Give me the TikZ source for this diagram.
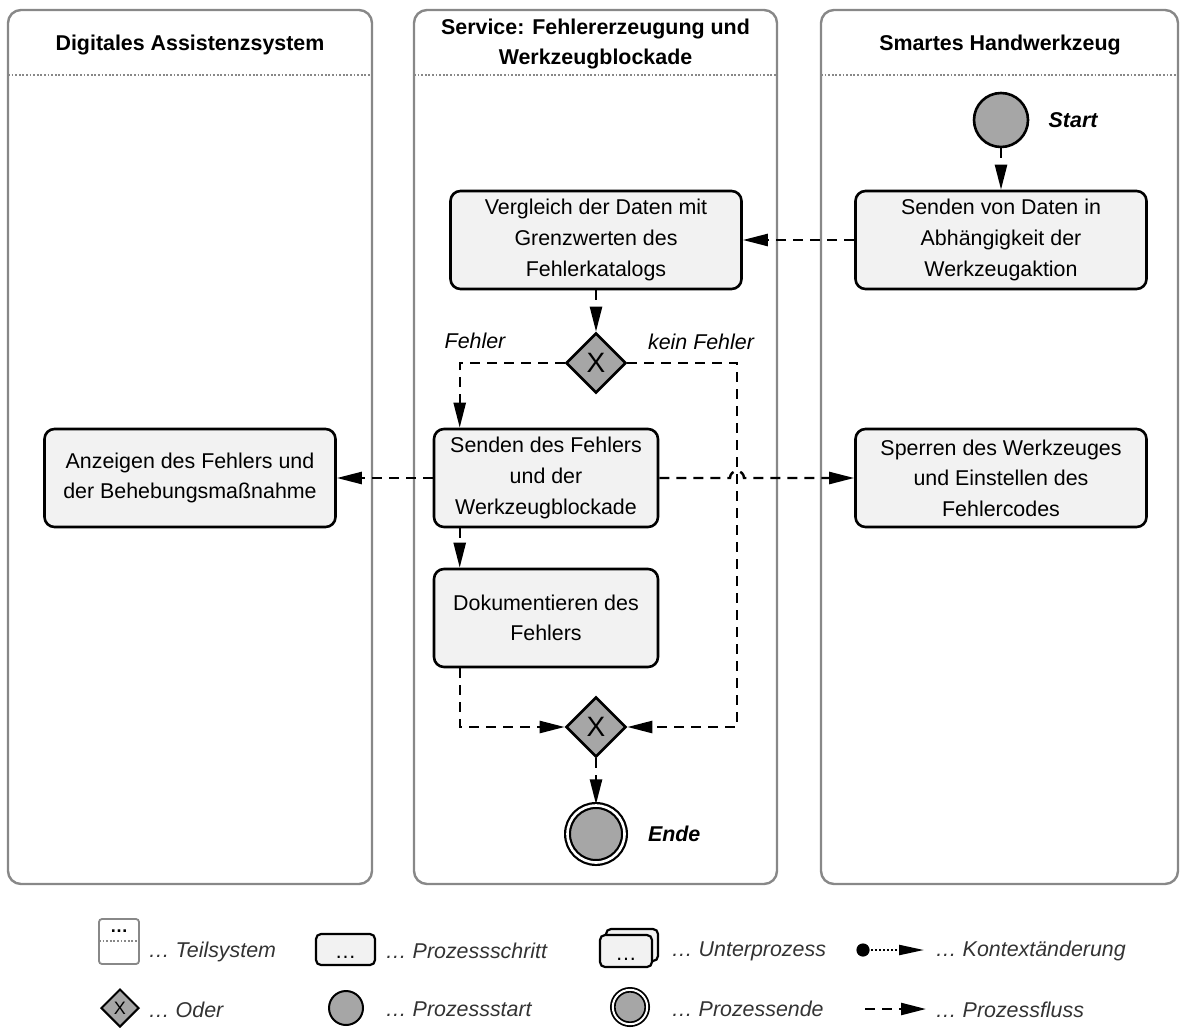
\documentclass[tikz,border=0pt]{standalone}
\usepackage{fontspec}
\setmainfont{Liberation Sans}
\usepackage{tikz}
\usetikzlibrary{arrows.meta}
\usetikzlibrary{shapes.geometric}
\usetikzlibrary{positioning}
\usetikzlibrary{calc}
\definecolor{lanegray}{HTML}{888888}
\definecolor{stepfill}{HTML}{F2F2F2}
\definecolor{eventfill}{HTML}{A6A6A6}
\definecolor{legendtext}{HTML}{333333}
\newcommand{\flowfont}{\fontsize{10.7}{15.3}\selectfont}

\tikzset{
	lane/.style={draw=lanegray, line width=1.2pt, rounded corners=6.5pt},
	laneline/.style={draw=lanegray, line width=0.9pt, dash pattern=on 0.9pt off 0.9pt},
	lanetitle/.style={font=\fontsize{10.7}{15}\selectfont\bfseries, align=center, inner sep=0pt},
	process/.style={draw, line width=1.3pt, fill=stepfill, rounded corners=5pt, align=center,
		minimum width=145.5pt, minimum height=49pt, inner sep=0pt},
	gateway/.style={diamond, draw, line width=1.3pt, fill=eventfill, minimum size=30pt, inner sep=0pt,
		font=\fontsize{14}{14}\selectfont},
	startevent/.style={circle, draw, line width=1.3pt, fill=eventfill, minimum size=27pt, inner sep=0pt},
	endevent/.style={circle, draw, line width=1.1pt, double, double distance=1.3pt, fill=eventfill,
		minimum size=28.5pt, inner sep=0pt},
	flow/.style={line width=1.2pt, dash pattern=on 5pt off 3.5pt, -{Triangle[length=12.5pt,width=6pt]}},
	branch/.style={font=\flowfont\itshape, inner sep=0pt},
	eventlabel/.style={font=\flowfont\bfseries\itshape, inner sep=0pt},
	legend/.style={font=\flowfont\itshape, text=legendtext, anchor=west, inner sep=0pt},
}

\begin{document}
\begin{tikzpicture}[x=0.5pt, y=-0.5pt, font=\flowfont]
		\useasboundingbox (0,0) rectangle (1181,1027);

		%draw lanes with header line
		\foreach \l/\r in {8/372, 414/777, 821/1178}
		{
			\draw[lane] (\l,10) rectangle (\r,884);
			\draw[laneline] (\l,75) -- (\r,75);
		}
		\node[lanetitle] (titleAssist) at (190,45) {Digitales Assistenzsystem};
		\node[lanetitle] (titleService) at (595.5,44) {Service: Fehlererzeugung und\\Werkzeugblockade};
		\node[lanetitle] (titleTool) at (1000,45) {Smartes Handwerkzeug};

		%events and gateways
		\node[startevent] (start) at (1001,120) {};
		\node[eventlabel, right=9.5pt of start] (lblStart) {Start};
		\node[gateway] (gw1) at (596,363) {X};
		\node[gateway] (gw2) at (596,727) {X};
		\node[endevent] (end) at (596,834) {};
		\node[eventlabel, right=11pt of end] (lblEnd) {Ende};

		%process steps
		\node[process] (sendData) at (1001,240) {Senden von Daten in\\Abhängigkeit der\\Werkzeugaktion};
		\node[process] (compare) at (596,240) {Vergleich der Daten mit\\Grenzwerten des\\Fehlerkatalogs};
		\node[process, minimum width=112pt] (sendErr) at (546,478) {Senden des Fehlers\\und der\\Werkzeugblockade};
		\node[process] (show) at (190,478) {Anzeigen des Fehlers und\\der Behebungsmaßnahme};
		\node[process] (lock) at (1001,478) {Sperren des Werkzeuges\\und Einstellen des\\Fehlercodes};
		\node[process, minimum width=112pt] (doc) at (546,618) {Dokumentieren des\\Fehlers};

		%branch labels
		\node[branch] (lblErr) at (475,341) {Fehler};
		\node[branch] (lblNoErr) at (701,342) {kein Fehler};

		%process flow
		\coordinate (detour) at (737,363);
		\draw[flow] (start) -- (sendData);
		\draw[flow] (sendData) -- (compare);
		\draw[flow] (compare) -- (gw1);
		\draw[flow] (gw1.west) -| ([xshift=13.5pt]sendErr.north west);
		\draw[flow] (gw1.east) -- (detour) |- (gw2.east);
		\draw[flow] (sendErr.west) -- (show.east);
		\draw[flow] (sendErr.east) -- ([xshift=-3.5pt]sendErr.east -| detour)
			arc[start angle=180, end angle=0, radius=3.5pt] -- (lock.west);
		\draw[flow] ([xshift=13.5pt]sendErr.south west) -- ([xshift=13.5pt]doc.north west);
		\draw[flow] ([xshift=13.5pt]doc.south west) |- (gw2.west);
		\draw[flow] (gw2) -- (end);

		%legend, first row
		\draw[draw=lanegray, line width=0.9pt, rounded corners=1.5pt] (99,919) rectangle (139,964);
		\draw[laneline, line width=0.6pt] (99,941) -- (139,941);
		\node[inner sep=0pt, font=\fontsize{9}{9}\selectfont\bfseries] (keyLane) at (119,931) {…};
		\node[legend] (txtLane) at (148,952) {… Teilsystem};

		\node[process, minimum width=29.5pt, minimum height=15.5pt, line width=1.1pt, rounded corners=2.5pt] (keyStep) at (345.5,949.5) {};
		\node[inner sep=0pt, above=3.5pt of keyStep.south] (keyStepDots) {…};
		\node[legend] (txtStep) at (385,951) {… Prozessschritt};

		\node[process, minimum width=26pt, minimum height=16pt, line width=1.1pt, rounded corners=2.5pt] (keySubBack) at (632,945) {};
		\node[process, minimum width=26pt, minimum height=16pt, line width=1.1pt, rounded corners=2.5pt] (keySub) at (626,951) {};
		\node[inner sep=0pt, above=3.5pt of keySub.south] (keySubDots) {…};
		\node[legend] (txtSub) at (671,951) {… Unterprozess};

		\coordinate (ctxFrom) at (863,950);
		\coordinate (ctxTo) at (924,950);
		\fill (ctxFrom) circle (3.3pt);
		\draw[line width=1.1pt, dash pattern=on 1pt off 1pt, -{Triangle[length=12.5pt,width=5pt]}] (ctxFrom) -- (ctxTo);
		\node[legend] (txtCtx) at (935,951) {… Kontextänderung};

		%legend, second row
		\node[gateway, minimum size=19pt, line width=1pt, font=\fontsize{9}{9}\selectfont] (keyGw) at (120,1008) {X};
		\node[legend] (txtGw) at (148,1010) {… Oder};

		\node[startevent, minimum size=17pt, line width=1pt] (keyStart) at (346,1008) {};
		\node[legend] (txtStart) at (385,1009) {… Prozessstart};

		\node[endevent, minimum size=17.2pt, line width=0.9pt, double distance=1pt] (keyEnd) at (630,1007) {};
		\node[legend] (txtEnd) at (671,1009) {… Prozessende};

		\coordinate (flowFrom) at (865,1009);
		\coordinate (flowTo) at (926,1009);
		\draw[flow] (flowFrom) -- (flowTo);
		\node[legend] (txtFlow) at (935,1010) {… Prozessfluss};
\end{tikzpicture}
\end{document}
